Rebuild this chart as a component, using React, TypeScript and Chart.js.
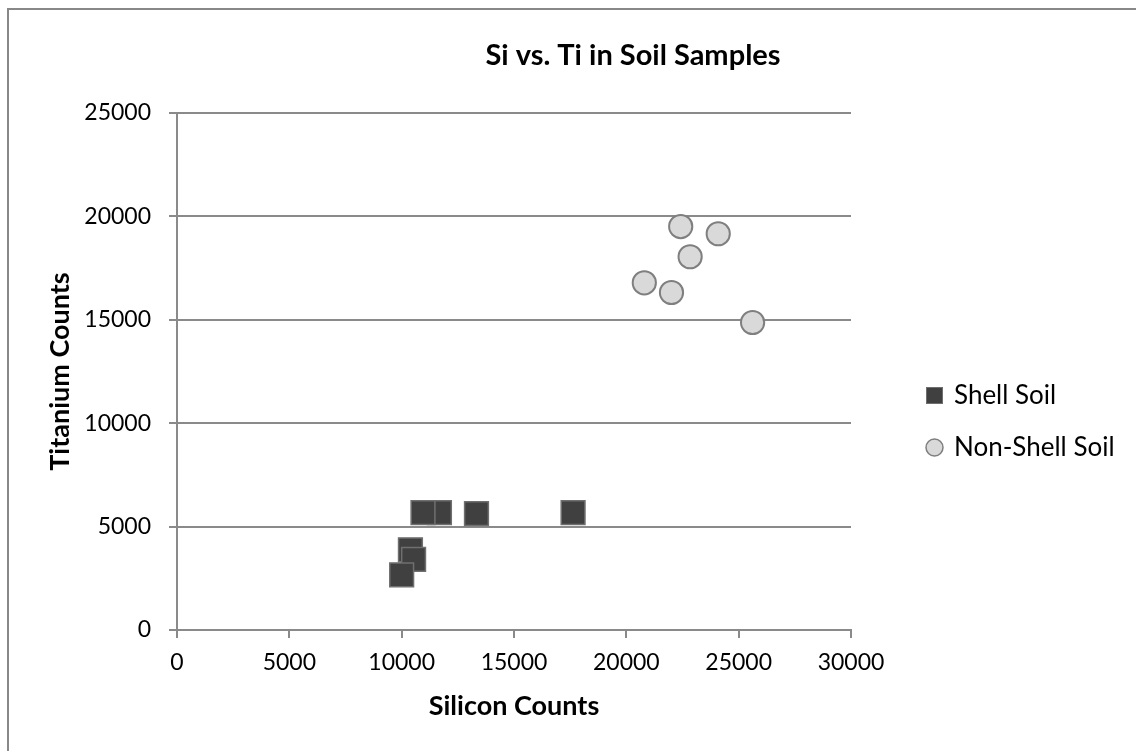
import React, { useEffect, useRef } from 'react';
import { Chart, registerables } from 'chart.js';

Chart.register(...registerables);

// ---- data ----
const seriesNames = ['Shell Soil', 'Non-Shell Soil'];
const shellSilicon = [11680, 10950, 13330, 17630, 10390, 10530, 10000];
const shellTitanium = [5680, 5680, 5630, 5680, 3880, 3420, 2670];
const nonShellSilicon = [22420, 24090, 22840, 20800, 22010, 25620];
const nonShellTitanium = [19510, 19160, 18050, 16790, 16320, 14870];
const xTicks = [0, 5000, 10000, 15000, 20000, 25000, 30000];
const yTicks = [0, 5000, 10000, 15000, 20000, 25000];
const chartTitle = 'Si vs. Ti in Soil Samples';
const xAxisTitle = 'Silicon Counts';
const yAxisTitle = 'Titanium Counts';

// ---- layout / style constants ----
const W = 1136;
const H = 751;
const FONT = 'Lato';
const AXIS_GRAY = '#8a8a8a';
const LEGEND_W = 285;
const LEGEND_DX = 51;
const LEGEND_DY = 46;
const TITLE_DX = 65;

function makeIcon(size: number, draw: (ctx: CanvasRenderingContext2D) => void) {
  const c = document.createElement('canvas');
  c.width = size;
  c.height = size;
  const ctx = c.getContext('2d')!;
  draw(ctx);
  return c;
}

export default function App() {
  const ref = useRef<HTMLCanvasElement>(null);

  useEffect(() => {
    const canvas = ref.current;
    if (!canvas) return;

    const squareIcon = makeIcon(17, (ctx) => {
      ctx.fillStyle = '#404040';
      ctx.fillRect(0, 0, 17, 17);
      ctx.strokeStyle = '#6f6f6f';
      ctx.lineWidth = 1;
      ctx.strokeRect(0.5, 0.5, 16, 16);
    });
    const circleIcon = makeIcon(19, (ctx) => {
      ctx.beginPath();
      ctx.arc(9.5, 9.5, 8.5, 0, Math.PI * 2);
      ctx.fillStyle = '#d9d9d9';
      ctx.fill();
      ctx.strokeStyle = '#7f7f7f';
      ctx.lineWidth = 1.5;
      ctx.stroke();
    });

    const placeBlocks = {
      id: 'placeBlocks',
      beforeLayout(chart: any) {
        const lg = chart.legend;
        if (lg && !lg._pinned) {
          const fit = lg.fit.bind(lg);
          lg.fit = function () {
            fit();
            this.width = LEGEND_W;
          };
          lg._pinned = true;
        }
      },
      afterLayout(chart: any) {
        const lg = chart.legend;
        if (lg) {
          lg.left += LEGEND_DX;
          lg.right += LEGEND_DX;
          lg.top += LEGEND_DY;
          lg.bottom += LEGEND_DY;
        }
        const t = chart.titleBlock;
        if (t) {
          t.left += TITLE_DX;
          t.right += TITLE_DX;
        }
      },
    };

    Chart.defaults.font.family = FONT;
    Chart.defaults.color = '#000000';

    const chart = new Chart(canvas, {
      type: 'scatter',
      data: {
        datasets: [
          {
            label: seriesNames[0],
            data: shellSilicon.map((x, i) => ({ x, y: shellTitanium[i] })),
            pointStyle: 'rect',
            pointRadius: 16.8,
            pointHoverRadius: 16.8,
            backgroundColor: '#404040',
            borderColor: '#6f6f6f',
            borderWidth: 1.5,
            hoverBorderWidth: 1.5,
          },
          {
            label: seriesNames[1],
            data: nonShellSilicon.map((x, i) => ({ x, y: nonShellTitanium[i] })),
            pointStyle: 'circle',
            pointRadius: 11.6,
            pointHoverRadius: 11.6,
            backgroundColor: '#d9d9d9',
            borderColor: '#7f7f7f',
            borderWidth: 2,
            hoverBorderWidth: 2,
          },
        ],
      },
      options: {
        responsive: false,
        animation: false,
        events: [],
        layout: { padding: 0 },
        scales: {
          x: {
            type: 'linear',
            min: xTicks[0],
            max: xTicks[xTicks.length - 1],
            afterBuildTicks: (s: any) => {
              s.ticks = xTicks.map((v) => ({ value: v }));
            },
            afterFit: (s: any) => {
              s.height = 121;
            },
            ticks: {
              font: { size: 23 },
              padding: 11,
              maxRotation: 0,
              callback: (v: any) => String(v),
            },
            grid: {
              drawOnChartArea: false,
              drawTicks: true,
              tickLength: 8,
              color: AXIS_GRAY,
              lineWidth: 2,
            },
            border: { display: true, color: AXIS_GRAY, width: 2 },
            title: {
              display: true,
              text: xAxisTitle,
              font: { size: 27, weight: 'bold' },
              padding: { top: 0, bottom: 29 },
            },
          },
          y: {
            type: 'linear',
            min: yTicks[0],
            max: yTicks[yTicks.length - 1],
            afterBuildTicks: (s: any) => {
              s.ticks = yTicks.map((v) => ({ value: v }));
            },
            afterFit: (s: any) => {
              s.width = 177;
            },
            ticks: {
              font: { size: 23 },
              padding: 18,
              callback: (v: any) => String(v),
            },
            grid: {
              drawOnChartArea: true,
              drawTicks: true,
              tickLength: 8,
              color: AXIS_GRAY,
              lineWidth: 2,
            },
            border: { display: true, color: AXIS_GRAY, width: 2 },
            title: {
              display: true,
              text: yAxisTitle,
              font: { size: 27, weight: 'bold' },
              padding: { top: 44, bottom: 0 },
            },
          },
        },
        plugins: {
          title: {
            display: true,
            text: chartTitle,
            font: { size: 29, weight: 'bold' },
            color: '#000000',
            padding: { top: 38.6, bottom: 39.6 },
          },
          legend: {
            display: true,
            position: 'right',
            align: 'center',
            labels: {
              usePointStyle: true,
              boxWidth: 13,
              boxHeight: 13,
              padding: 26,
              font: { size: 26 },
              color: '#000000',
              generateLabels: (c: any) => {
                const items = (Chart.defaults.plugins.legend.labels as any).generateLabels(c);
                if (items[0]) items[0].pointStyle = squareIcon;
                if (items[1]) items[1].pointStyle = circleIcon;
                return items;
              },
            },
          },
          tooltip: { enabled: false },
        },
      } as any,
      plugins: [placeBlocks],
    });

    return () => chart.destroy();
  }, []);

  return (
    <div
      style={{
        position: 'absolute',
        left: 0,
        top: 0,
        width: W,
        height: H,
        overflow: 'hidden',
        background: '#ffffff',
      }}
    >
      <div
        style={{
          position: 'absolute',
          left: 7,
          top: 8,
          right: 0,
          bottom: 0,
          borderLeft: '2px solid #888888',
          borderTop: '2px solid #888888',
        }}
      />
      <canvas
        ref={ref}
        width={W}
        height={H}
        style={{ position: 'absolute', left: 0, top: 0, width: W, height: H }}
      />
    </div>
  );
}
